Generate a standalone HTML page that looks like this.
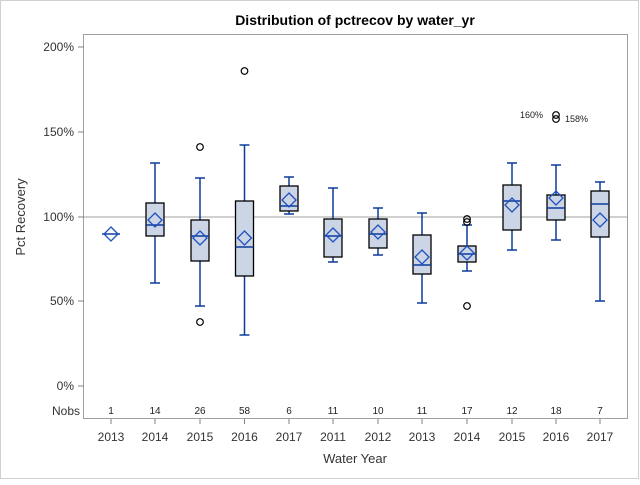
<!DOCTYPE html>
<html><head><style>body{margin:0;background:#fff}</style></head><body>
<svg width="640" height="480" xmlns="http://www.w3.org/2000/svg" font-family="Liberation Sans, sans-serif">
<rect x="0.5" y="0.5" width="638" height="478" fill="#fff" stroke="#d0d0d0"/>
<text x="355" y="25" font-size="14" font-weight="bold" text-anchor="middle">Distribution of pctrecov by water_yr</text>
<rect x="83.5" y="34.5" width="544" height="384" fill="none" stroke="#a0a0a0"/>
<line x1="84" y1="217" x2="627" y2="217" stroke="#a0a0a0"/>
<g stroke="#808080"><line x1="78" y1="47" x2="84" y2="47"/><line x1="78" y1="132" x2="84" y2="132"/><line x1="78" y1="217" x2="84" y2="217"/><line x1="78" y1="301" x2="84" y2="301"/><line x1="78" y1="386" x2="84" y2="386"/></g>
<g font-size="12" fill="#333" text-anchor="end"><text x="74" y="51">200%</text><text x="74" y="136">150%</text><text x="74" y="221">100%</text><text x="74" y="305">50%</text><text x="74" y="390">0%</text><text x="80" y="415">Nobs</text></g>
<text transform="translate(25,217) rotate(-90)" font-size="13" fill="#333" text-anchor="middle">Pct Recovery</text>
<text x="355" y="463" font-size="13" fill="#333" text-anchor="middle">Water Year</text>
<g id="boxes"></g>
<g font-size="9" fill="#222"><text x="520" y="118">160%</text><text x="565" y="122">158%</text></g>
</svg>
<script>
var xs=[111,155,200,244.5,289,333,378,422,467,512,556,600];
var yrs=[2013,2014,2015,2016,2017,2011,2012,2013,2014,2015,2016,2017];
var n=[1,14,26,58,6,11,10,11,17,12,18,7];
var d=[null,[163,203,225,236,283,220,[]],[178,220,236,261,306,238,[147,322]],[145,201,247,276,335,238,[71]],[177,186,206,211,214,200,[]],[188,219,236,257,262,235,[]],[208,219,234,248,255,232,[]],[213,235,265,274,303,257,[]],[225,246,254,262,271,253,[222,219,306]],[163,185,201,230,250,205,[]],[165,195,208,220,240,198,[115,119]],[182,191,204,237,301,220,[]]];
var s='';var B='#0d3b9c';
function dia(x,y){return '<path d="M'+x+' '+(y-7)+'L'+(x+7)+' '+y+'L'+x+' '+(y+7)+'L'+(x-7)+' '+y+'Z" fill="none" stroke="#1e4fc0" stroke-width="1.3"/>';}
for(var i=0;i<12;i++){var x=xs[i];
s+='<line x1="'+x+'" y1="419" x2="'+x+'" y2="424" stroke="#808080"/>';
s+='<text x="'+x+'" y="441" font-size="12" fill="#333" text-anchor="middle">'+yrs[i]+'</text>';
s+='<text x="'+x+'" y="414" font-size="10" fill="#222" text-anchor="middle">'+n[i]+'</text>';
var b=d[i];
if(!b){s+='<line x1="'+(x-9)+'" y1="234" x2="'+(x+9)+'" y2="234" stroke="'+B+'" stroke-width="1.5"/>'+dia(x,234);continue;}
s+='<line x1="'+x+'" y1="'+b[0]+'" x2="'+x+'" y2="'+b[4]+'" stroke="'+B+'" stroke-width="1.5"/>';
s+='<line x1="'+(x-5)+'" y1="'+b[0]+'" x2="'+(x+5)+'" y2="'+b[0]+'" stroke="'+B+'" stroke-width="1.5"/>';
s+='<line x1="'+(x-5)+'" y1="'+b[4]+'" x2="'+(x+5)+'" y2="'+b[4]+'" stroke="'+B+'" stroke-width="1.5"/>';
s+='<rect x="'+(x-9)+'" y="'+b[1]+'" width="18" height="'+(b[3]-b[1])+'" fill="#cbd5e5" stroke="#000" stroke-width="1.3"/>';
s+='<line x1="'+(x-9)+'" y1="'+b[2]+'" x2="'+(x+9)+'" y2="'+b[2]+'" stroke="'+B+'" stroke-width="1.5"/>';
s+=dia(x,b[5]);
b[6].forEach(function(o){s+='<circle cx="'+x+'" cy="'+o+'" r="3.3" fill="none" stroke="#000" stroke-width="1.2"/>';});
}
document.getElementById('boxes').innerHTML=s;
</script>
</body></html>
